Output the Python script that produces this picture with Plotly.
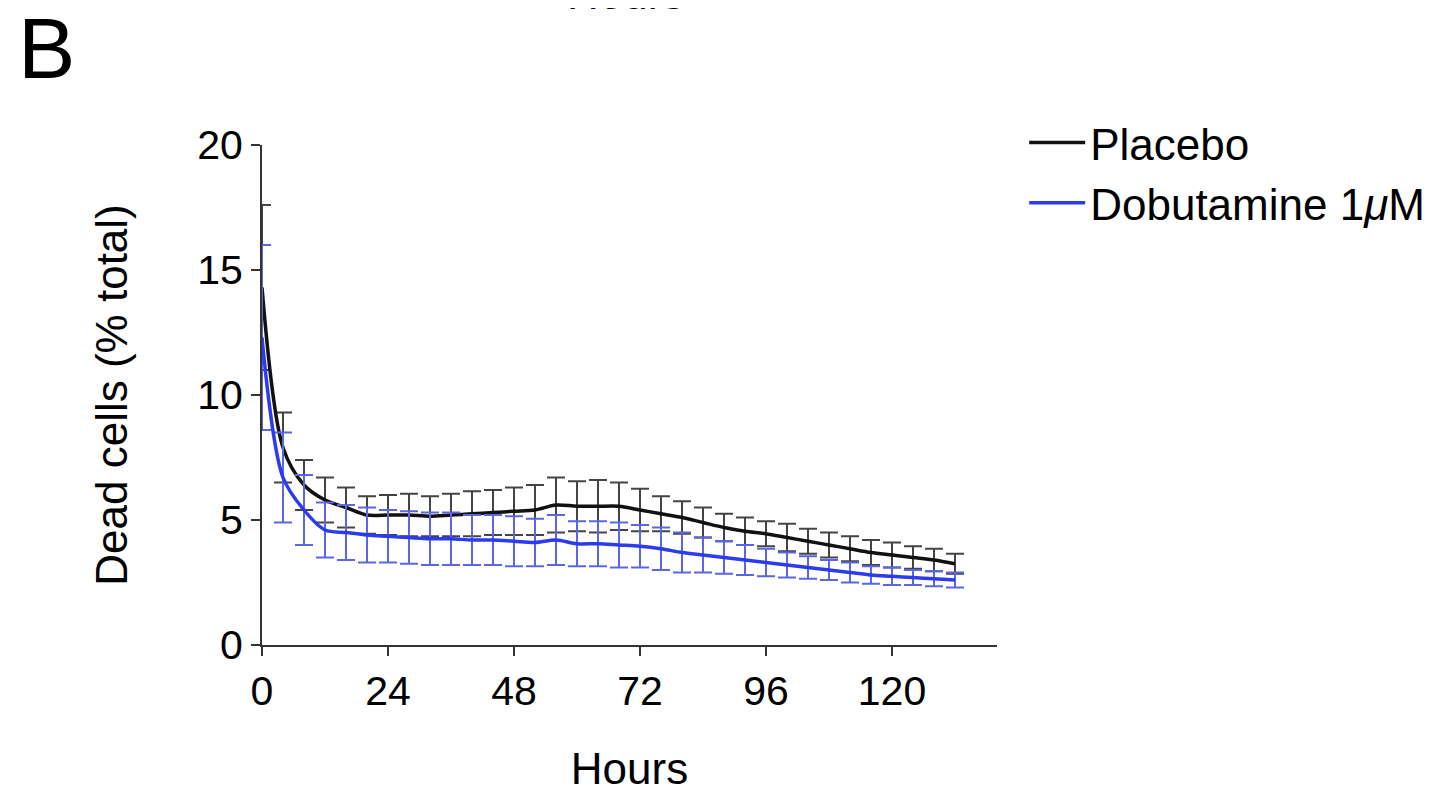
import plotly.graph_objects as go

# time points (hours)
hours = list(range(0, 133, 4))

placebo_mean = [14.3, 7.9, 6.4, 5.8, 5.5, 5.2, 5.2, 5.2, 5.15, 5.2, 5.25, 5.3,
                5.35, 5.4, 5.6, 5.55, 5.55, 5.55, 5.4, 5.25, 5.1, 4.9, 4.7, 4.55,
                4.45, 4.3, 4.15, 4.0, 3.85, 3.7, 3.6, 3.5, 3.4, 3.25]
placebo_sem = [3.3, 1.4, 1.0, 0.9, 0.8, 0.75, 0.8, 0.85, 0.8, 0.85, 0.9, 0.9,
               0.95, 1.0, 1.1, 1.0, 1.05, 0.95, 0.85, 0.7, 0.65, 0.6, 0.55, 0.55,
               0.5, 0.55, 0.5, 0.5, 0.5, 0.5, 0.5, 0.45, 0.45, 0.4]

dobu_mean = [12.3, 6.7, 5.4, 4.6, 4.5, 4.4, 4.35, 4.3, 4.25, 4.25, 4.2, 4.2,
             4.15, 4.1, 4.2, 4.05, 4.05, 4.0, 3.95, 3.85, 3.7, 3.6, 3.5, 3.4,
             3.3, 3.2, 3.1, 3.0, 2.9, 2.8, 2.75, 2.7, 2.65, 2.6]
dobu_sem = [3.7, 1.8, 1.4, 1.1, 1.1, 1.1, 1.05, 1.05, 1.05, 1.05, 1.0, 1.0,
            1.0, 0.95, 1.0, 0.9, 0.9, 0.9, 0.85, 0.85, 0.8, 0.7, 0.65, 0.6,
            0.55, 0.5, 0.45, 0.4, 0.4, 0.35, 0.35, 0.3, 0.3, 0.3]

x_ticks = [0, 24, 48, 72, 96, 120]
y_ticks = [0, 5, 10, 15, 20]

FONT = "Liberation Sans, Arial, sans-serif"

fig = go.Figure()

# Placebo
fig.add_trace(go.Scatter(
    x=hours, y=placebo_mean,
    name="Placebo",
    mode="lines",
    line=dict(color="#111111", width=3.5, shape="spline", smoothing=0.9),
    error_y=dict(type="data", array=placebo_sem, color="#444444",
                 thickness=2, width=9),
))

# Dobutamine
fig.add_trace(go.Scatter(
    x=hours, y=dobu_mean,
    name="Dobutamine 1<i>μ</i>M",
    mode="lines",
    line=dict(color="#2b3bef", width=3.5, shape="spline", smoothing=0.9),
    error_y=dict(type="data", array=dobu_sem, color="#5a66e6",
                 thickness=2, width=9),
))

# panel letter and cut-off title of the panel above
fig.add_annotation(text="B", xref="paper", yref="paper", x=-0.335, y=1.194,
                   xanchor="left", yanchor="middle", showarrow=False,
                   font=dict(size=86, color="black", family=FONT))
fig.add_annotation(text="Hours", xref="paper", yref="paper", x=0.494, y=1.302,
                   xanchor="center", yanchor="middle", showarrow=False,
                   font=dict(size=44, color="black", family=FONT))

fig.update_layout(
    width=1453,
    height=792,
    margin=dict(l=254, r=464, t=137, b=155),
    plot_bgcolor="white",
    paper_bgcolor="white",
    font=dict(family=FONT, color="black"),
    showlegend=True,
    legend=dict(
        x=1.037, y=1.075, xanchor="left", yanchor="top",
        font=dict(size=44, color="black"),
        bgcolor="rgba(0,0,0,0)",
        itemwidth=56,
        tracegroupgap=0,
    ),
)

fig.update_xaxes(
    range=[0, 140],
    tickvals=x_ticks,
    ticks="outside", ticklen=9, tickwidth=2, tickcolor="#333333",
    showline=True, linecolor="#333333", linewidth=2,
    showgrid=False, zeroline=False,
    tickfont=dict(size=41, color="black"),
    title=dict(text="Hours", font=dict(size=44, color="black"), standoff=40),
)
fig.update_yaxes(
    range=[0, 20],
    tickvals=y_ticks,
    ticks="outside", ticklen=9, tickwidth=2, tickcolor="#333333",
    showline=True, linecolor="#333333", linewidth=2,
    showgrid=False, zeroline=False,
    tickfont=dict(size=41, color="black"),
    title=dict(text="Dead cells (% total)", font=dict(size=44, color="black"), standoff=56),
)

fig.write_html("out.html")
